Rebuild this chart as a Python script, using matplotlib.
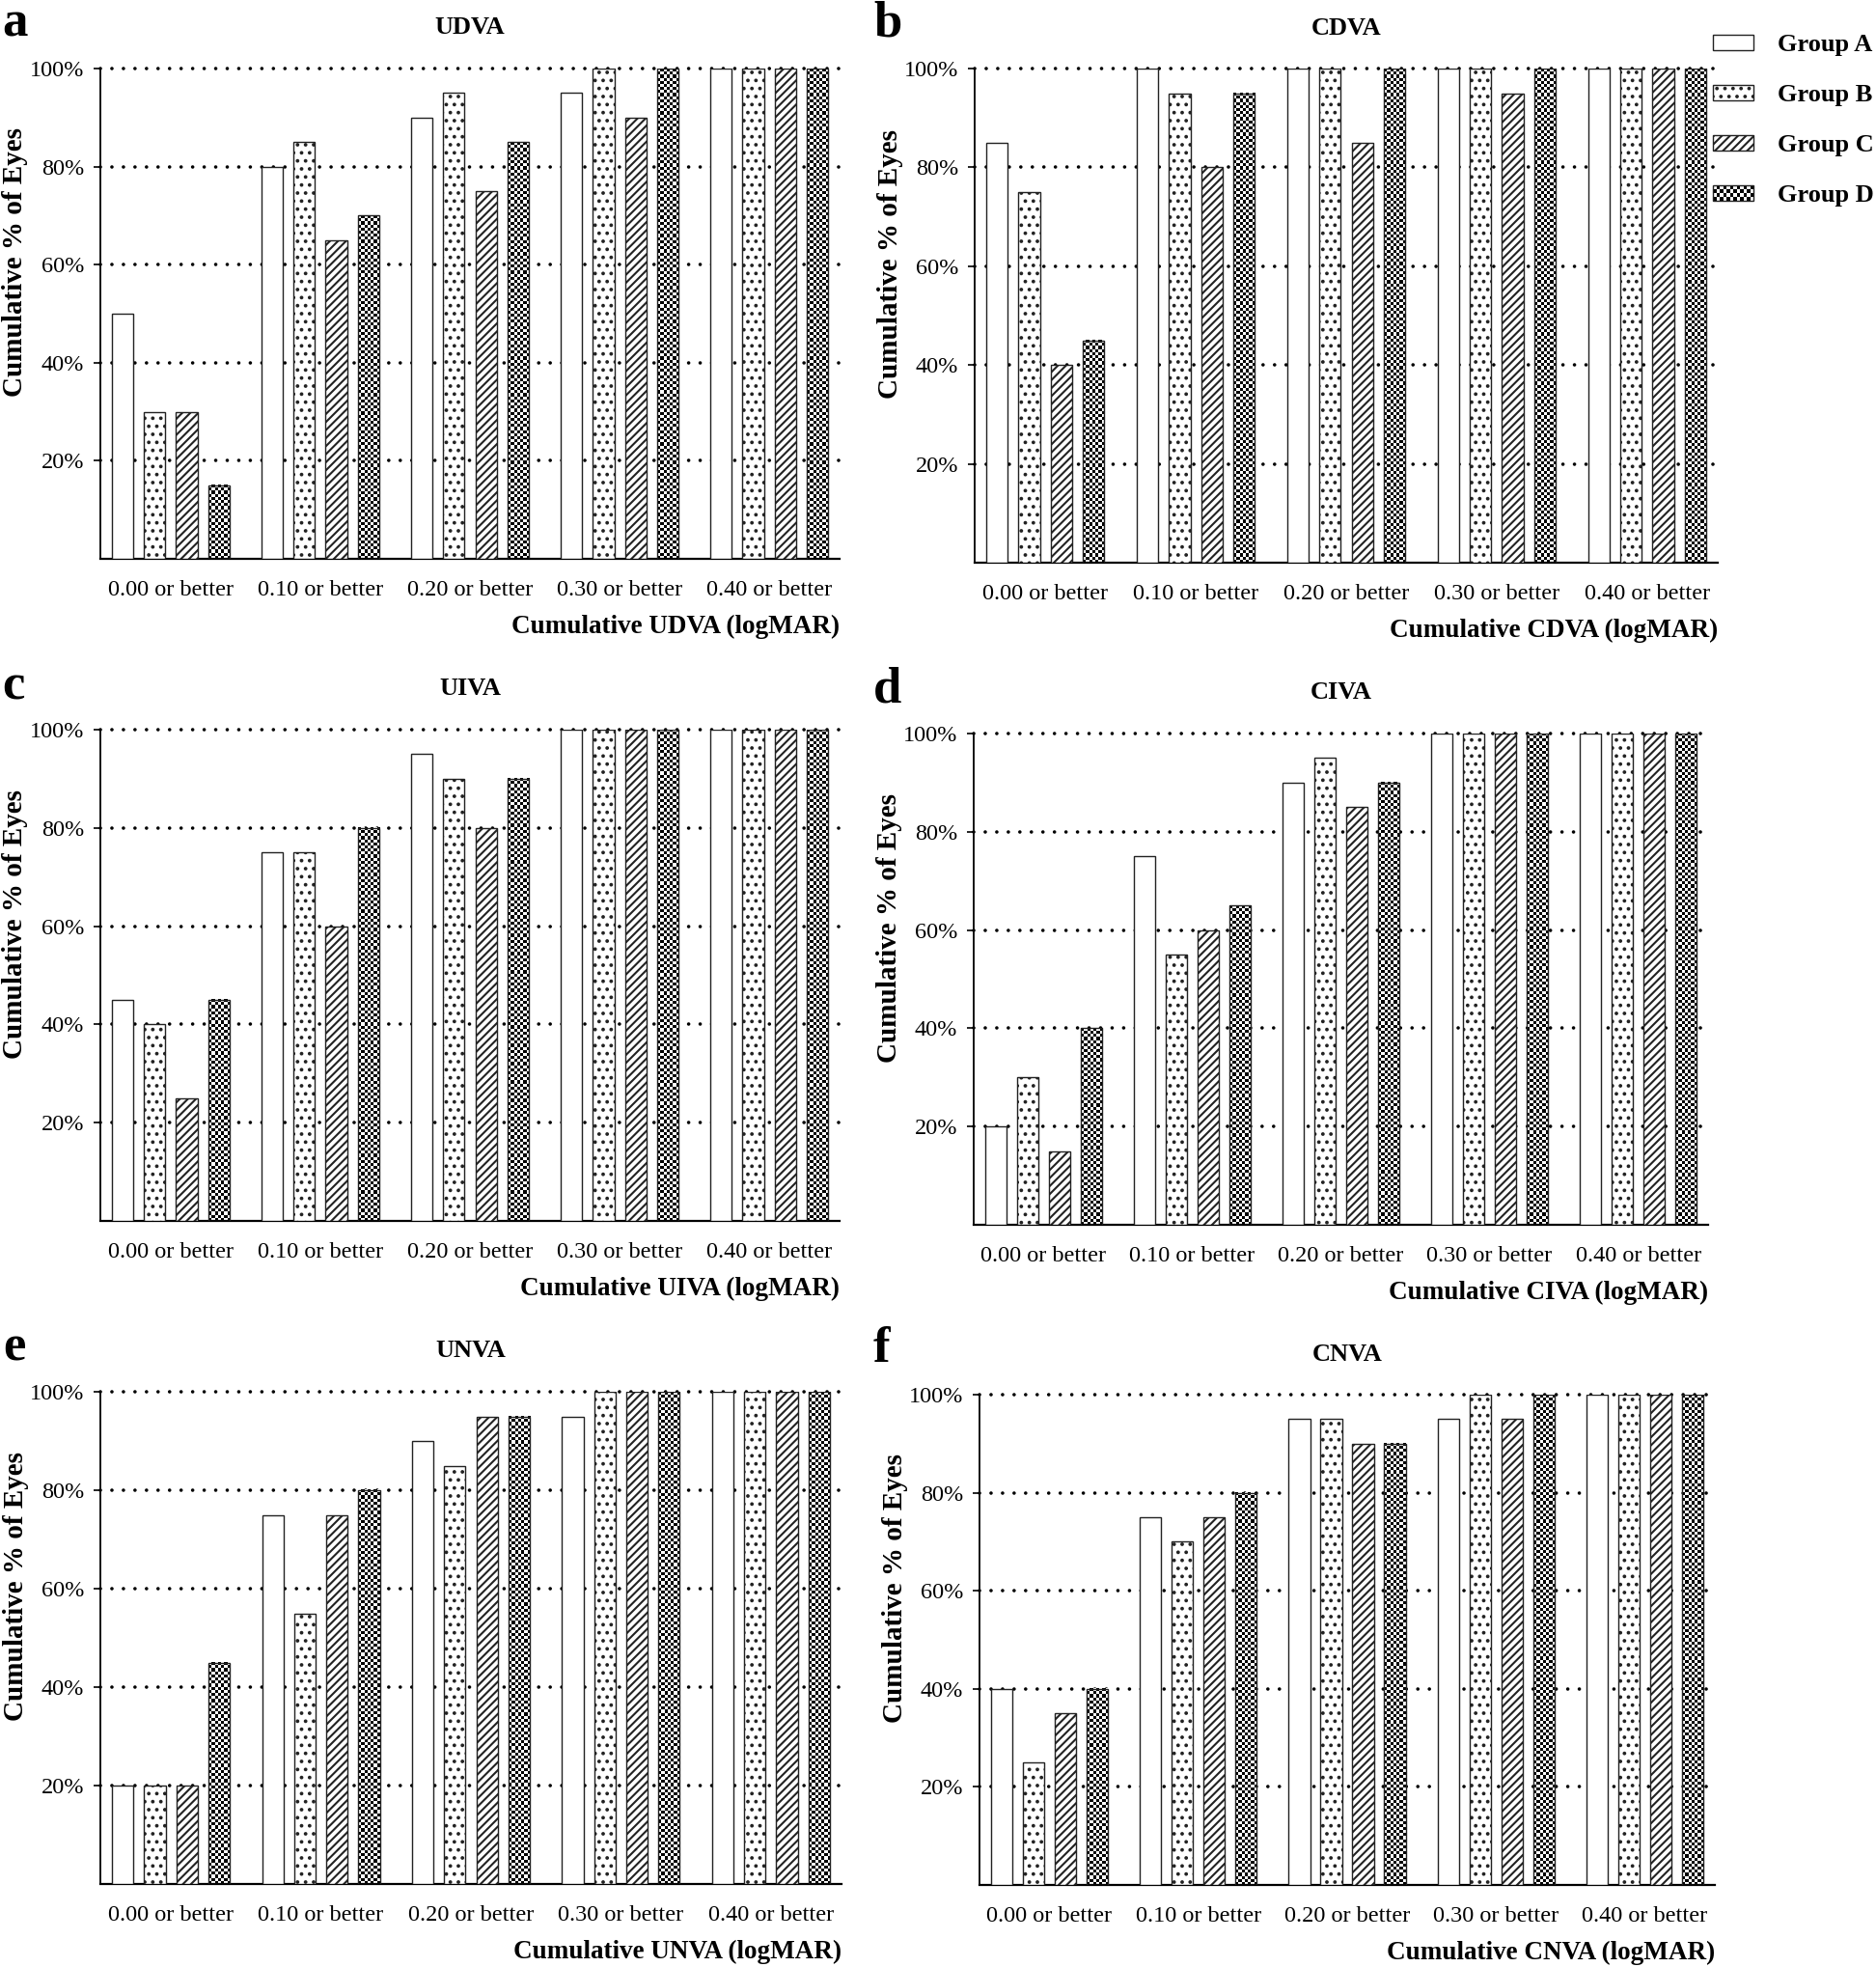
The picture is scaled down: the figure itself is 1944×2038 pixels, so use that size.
import matplotlib
matplotlib.use("Agg")
import matplotlib.pyplot as plt
import numpy as np
from matplotlib.patches import Rectangle
from matplotlib.legend_handler import HandlerPatch

plt.rcParams['font.family'] = ['Liberation Serif', 'DejaVu Serif']
plt.rcParams['hatch.linewidth'] = 1.5

# data: cumulative % of eyes, rows = Group A..D, columns = categories
categories = ['0.00 or better', '0.10 or better', '0.20 or better', '0.30 or better', '0.40 or better']
groups = ['Group A', 'Group B', 'Group C', 'Group D']
yticks = [20, 40, 60, 80, 100]

udva = [[50, 80, 90, 95, 100], [30, 85, 95, 100, 100], [30, 65, 75, 90, 100], [15, 70, 85, 100, 100]]
cdva = [[85, 100, 100, 100, 100], [75, 95, 100, 100, 100], [40, 80, 85, 95, 100], [45, 95, 100, 100, 100]]
uiva = [[45, 75, 95, 100, 100], [40, 75, 90, 100, 100], [25, 60, 80, 100, 100], [45, 80, 90, 100, 100]]
civa = [[20, 75, 90, 100, 100], [30, 55, 95, 100, 100], [15, 60, 85, 100, 100], [40, 65, 90, 100, 100]]
unva = [[20, 75, 90, 95, 100], [20, 55, 85, 100, 100], [20, 75, 95, 100, 100], [45, 80, 95, 100, 100]]
cnva = [[40, 75, 95, 95, 100], [25, 70, 95, 100, 100], [35, 75, 90, 95, 100], [40, 80, 90, 100, 100]]

measures = ['UDVA', 'CDVA', 'UIVA', 'CIVA', 'UNVA', 'CNVA']
panel_data = [udva, cdva, uiva, civa, unva, cnva]
letters = ['a', 'b', 'c', 'd', 'e', 'f']

W, H = 1944, 2038
# axes boxes in pixels: left, top, right, bottom
boxes = [(104, 71, 870, 579), (1010, 71, 1780, 583),
         (104, 756, 870, 1265), (1009, 760, 1770, 1269),
         (104, 1442, 872, 1952), (1015, 1445, 1777, 1953)]
letter_pos = [(2, 37), (905, 37), (2, 724), (905, 727), (3, 1410), (905, 1411)]

hatches = ['', '..', '////', None]
edge = '#222222'
offsets = [-0.321, -0.107, 0.107, 0.321]
bar_w = 0.143


def checker_fill(ax, bar, ncol=7):
    x, y = bar.get_x(), bar.get_y()
    w, h = bar.get_width(), bar.get_height()
    (px0, py0), (px1, py1) = ax.transData.transform([(x, y), (x + w, y + h)])
    cell = (px1 - px0) / ncol
    nrow = max(1, int(round((py1 - py0) / cell)))
    pattern = np.add.outer(np.arange(nrow), np.arange(ncol)) % 2
    ax.imshow(pattern, cmap='gray', vmin=0, vmax=1, extent=(x, x + w, y, y + h),
              origin='lower', aspect='auto', interpolation='nearest', zorder=2.5)


class CheckerHandler(HandlerPatch):
    def create_artists(self, legend, orig_handle, xdescent, ydescent, width, height, fontsize, trans):
        x0, y0 = -xdescent, -ydescent
        arts = [Rectangle((x0, y0), width, height, facecolor='white', edgecolor='none', transform=trans)]
        ncol, nrow = 12, 4
        cw, ch = width / ncol, height / nrow
        for i in range(ncol):
            for j in range(nrow):
                if (i + j) % 2 == 0:
                    arts.append(Rectangle((x0 + i * cw, y0 + j * ch), cw, ch, facecolor='black',
                                          edgecolor='none', transform=trans))
        arts.append(Rectangle((x0, y0), width, height, facecolor='none', edgecolor=edge, lw=1.0,
                              transform=trans))
        return arts


fig = plt.figure(figsize=(W / 100, H / 100), dpi=100)

for k in range(6):
    l, t, r, b = boxes[k]
    ax = fig.add_axes([l / W, 1 - b / H, (r - l) / W, (b - t) / H])
    ax.set_xlim(-0.47, 4.47)
    ax.set_ylim(0, 100)
    x = np.arange(len(categories))

    for v in yticks:
        ax.axhline(v, color='black', lw=2.6, linestyle=(0, (0.01, 3.3)), dash_capstyle='round',
                   zorder=1, clip_on=False)

    for g in range(4):
        vals = panel_data[k][g]
        if hatches[g] is None:
            bars = ax.bar(x + offsets[g], vals, bar_w, facecolor='none', edgecolor=edge, lw=1.0, zorder=3)
            for bar in bars:
                checker_fill(ax, bar)
        else:
            ax.bar(x + offsets[g], vals, bar_w, facecolor='white', edgecolor=edge, lw=1.0,
                   hatch=hatches[g], zorder=3)
    ax.set_xlim(-0.47, 4.47)
    ax.set_ylim(0, 100)

    for s in ['top', 'right']:
        ax.spines[s].set_visible(False)
    ax.spines['left'].set_linewidth(1.3)
    ax.spines['bottom'].set_linewidth(1.6)
    ax.set_yticks(yticks)
    ax.set_yticklabels(['%d%%' % v for v in yticks], fontsize=17.5)
    ax.tick_params(axis='y', length=5, width=1.2, pad=7)
    ax.set_xticks(x)
    ax.set_xticklabels(categories, fontsize=17.5)
    ax.tick_params(axis='x', length=0, pad=16)

    hpx = b - t
    wpx = r - l
    ax.text(0.5, 1 + 42 / hpx, measures[k], transform=ax.transAxes, ha='center', va='center',
            fontsize=19, fontweight='bold')
    ax.text(1.0, -70 / hpx, 'Cumulative %s (logMAR)' % measures[k], transform=ax.transAxes,
            ha='right', va='center', fontsize=19.5, fontweight='bold')
    ax.text(-88 / wpx, 0.605, 'Cumulative % of Eyes', transform=ax.transAxes, rotation=90,
            ha='center', va='center', fontsize=21, fontweight='bold')

    lx, ly = letter_pos[k]
    fig.text(lx / W, 1 - ly / H, letters[k], ha='left', va='baseline', fontsize=38, fontweight='bold')

handles = [Rectangle((0, 0), 1, 1, facecolor='white', edgecolor=edge, lw=1.0, hatch=h or '')
           for h in hatches]
fig.legend(handles, groups, loc='upper left', bbox_to_anchor=(1775 / W, 1 - 35 / H),
           frameon=False, borderpad=0, borderaxespad=0, handlelength=1.6, handleheight=0.55,
           handletextpad=0.95, labelspacing=1.1,
           prop={'size': 19, 'weight': 'bold'},
           handler_map={handles[3]: CheckerHandler()})

fig.savefig('out.png', dpi=100)
